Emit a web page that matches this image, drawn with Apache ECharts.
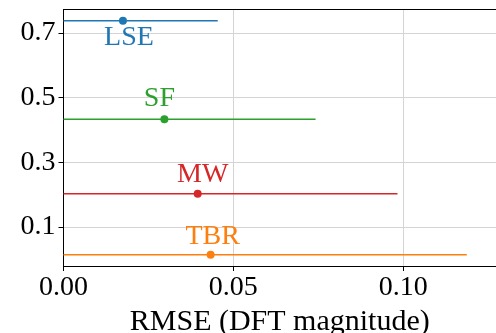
<!DOCTYPE html>
<html>
<head>
<meta charset="utf-8">
<script src="https://cdn.jsdelivr.net/npm/echarts@6/dist/echarts.min.js"></script>
<style>
  html, body { margin: 0; padding: 0; background: #fff; }
  #chart { width: 496px; height: 333px; }
</style>
</head>
<body>
<div id="chart"></div>
<script>
// methods, vertical placement, RMSE point and error bar upper end
const methods = ['LSE', 'SF', 'MW', 'TBR'];
const yPos = [0.737, 0.433, 0.203, 0.0145];
const rmse = [0.0175, 0.0297, 0.0395, 0.0433];
const upper = [0.0454, 0.0742, 0.0983, 0.1187];
const lower = [0, 0, 0, 0];
const colors = ['#1f77b4', '#2ca02c', '#d62728', '#ff7f0e'];
const yTicks = [0.1, 0.3, 0.5, 0.7];
// where each name sits relative to its point
const labelOffsets = [[6, 17], [-5, -21], [5, -19], [2, -18]];

const font = 'Liberation Serif';
const xMax = 0.1273;

const series = [];
methods.forEach((m, i) => {
  // error bar
  series.push({
    type: 'line',
    data: [[lower[i], yPos[i]], [upper[i], yPos[i]]],
    symbol: 'none',
    lineStyle: { color: colors[i], width: 1.5 },
    silent: true,
    z: 2
  });
  // point + label
  series.push({
    type: 'scatter',
    data: [[rmse[i], yPos[i]]],
    symbolSize: 8,
    itemStyle: { color: colors[i], opacity: 1 },
    label: {
      show: true,
      formatter: m,
      position: 'inside',
      offset: labelOffsets[i],
      color: colors[i],
      fontFamily: font,
      fontSize: 28
    },
    z: 3
  });
});

const chart = echarts.init(document.getElementById('chart'));
chart.setOption({
  animation: false,
  grid: { left: 63.5, top: 9.5, right: 0, bottom: 67, outerBoundsMode: 'none', containLabel: false },
  xAxis: [{
    type: 'value',
    min: 0, max: xMax, interval: 0.05,
    name: 'RMSE (DFT magnitude)',
    nameLocation: 'middle',
    nameGap: 35,
    nameTextStyle: { fontFamily: font, fontSize: 30, color: '#000' },
    axisLine: { onZero: false, lineStyle: { color: '#000', width: 1 } },
    axisTick: { show: true, length: 5, lineStyle: { color: '#000' } },
    axisLabel: {
      fontFamily: font, fontSize: 28, color: '#000', margin: 8,
      showMaxLabel: false,
      formatter: v => v.toFixed(2)
    },
    splitLine: { show: true, lineStyle: { color: '#d4d4d4', width: 1 } }
  }, {
    // top spine only
    type: 'value',
    position: 'top',
    min: 0, max: xMax,
    axisLine: { show: true, onZero: false, lineStyle: { color: '#000', width: 1 } },
    axisTick: { show: false },
    axisLabel: { show: false },
    splitLine: { show: false }
  }],
  yAxis: {
    type: 'value',
    min: -0.02, max: 0.772,
    axisLine: { show: true, onZero: false, lineStyle: { color: '#000', width: 1 } },
    axisTick: { show: true, length: 5, lineStyle: { color: '#000' }, customValues: yTicks },
    axisLabel: {
      fontFamily: font, fontSize: 28, color: '#000', margin: 8,
      customValues: yTicks,
      formatter: v => v.toFixed(1)
    },
    splitLine: { show: true, lineStyle: { color: '#d4d4d4', width: 1 } }
  },
  series: series
});
</script>
</body>
</html>
